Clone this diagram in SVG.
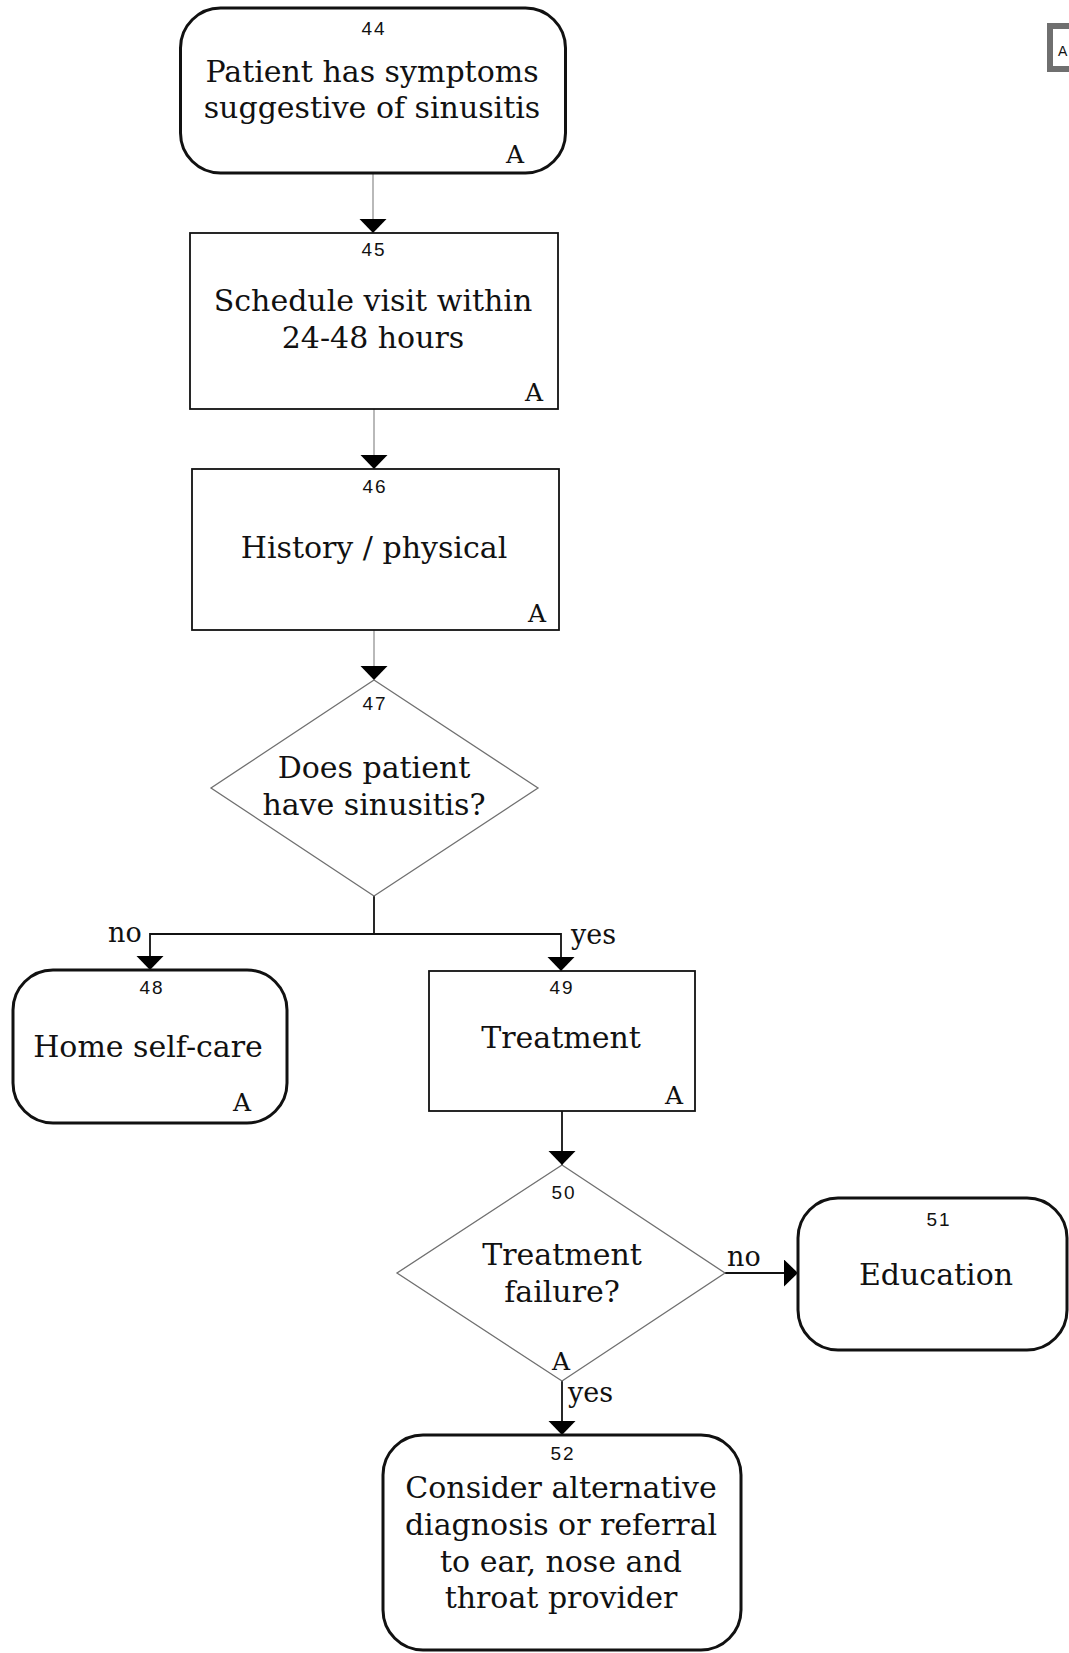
<svg xmlns="http://www.w3.org/2000/svg" width="1069" height="1653" viewBox="0 0 1069 1653">
<style>
.bg{fill:#fff}
.term{fill:#fff;stroke:#111;stroke-width:3}
.proc{fill:#fff;stroke:#111;stroke-width:1.8}
.dec{fill:#fff;stroke:#707070;stroke-width:1.3}
.t{font-family:"DejaVu Serif","Liberation Serif",serif;font-size:30px;fill:#111;text-anchor:middle}
.n{font-family:"Liberation Sans",Arial,sans-serif;font-size:19px;letter-spacing:2px;fill:#111;text-anchor:middle}
.a{font-family:"DejaVu Serif","Liberation Serif",serif;font-size:25px;fill:#111;text-anchor:middle}
.lbl{font-family:"DejaVu Serif","Liberation Serif",serif;font-size:27px;fill:#111}
.thin{fill:none;stroke:#8a8a8a;stroke-width:1.2}
.bold{fill:none;stroke:#111;stroke-width:1.8}
</style>
<defs>
<marker id="arr" markerUnits="userSpaceOnUse" markerWidth="15" markerHeight="28" refX="14" refY="13.5" orient="auto">
<path d="M0,0 L14,13.5 L0,27 z" fill="#000"/>
</marker>
</defs>
<rect class="bg" x="0" y="0" width="1069" height="1653"/>

<g id="corner-box">
<rect x="1050" y="26" width="40" height="43" fill="#fff" stroke="#6f6f6f" stroke-width="6"/>
<text x="1058" y="56" font-family="Liberation Sans, Arial, sans-serif" font-size="14" fill="#111">A</text>
</g>

<g id="connectors">
<line class="thin" x1="373" y1="173" x2="373" y2="233" marker-end="url(#arr)"/>
<line class="thin" x1="374" y1="409" x2="374" y2="469" marker-end="url(#arr)"/>
<line class="thin" x1="374" y1="630" x2="374" y2="680" marker-end="url(#arr)"/>
<path class="bold" d="M374,896 V934 H150 V970" marker-end="url(#arr)"/>
<path class="bold" d="M374,934 H561 V971" marker-end="url(#arr)"/>
<line class="bold" x1="562" y1="1111" x2="562" y2="1165" marker-end="url(#arr)"/>
<line class="bold" x1="725" y1="1273" x2="798" y2="1273" marker-end="url(#arr)"/>
<line class="bold" x1="562" y1="1381" x2="562" y2="1435" marker-end="url(#arr)"/>
<text class="lbl" x="108" y="942">no</text>
<text class="lbl" x="571" y="944">yes</text>
<text class="lbl" x="727" y="1266">no</text>
<text class="lbl" x="568" y="1402">yes</text>
</g>

<g id="node44">
<rect class="term" x="180.5" y="8" width="385" height="165" rx="40"/>
<text class="n" x="374" y="35">44</text>
<text class="t" x="372" y="82">Patient has symptoms</text>
<text class="t" x="372" y="118">suggestive of sinusitis</text>
<text class="a" x="515" y="163">A</text>
</g>

<g id="node45">
<rect class="proc" x="190" y="233" width="368" height="176"/>
<text class="n" x="374" y="256">45</text>
<text class="t" x="373" y="311">Schedule visit within</text>
<text class="t" x="373" y="348">24-48 hours</text>
<text class="a" x="534" y="401">A</text>
</g>

<g id="node46">
<rect class="proc" x="192" y="469" width="367" height="161"/>
<text class="n" x="375" y="493">46</text>
<text class="t" x="374" y="558">History / physical</text>
<text class="a" x="537" y="622">A</text>
</g>

<g id="node47">
<polygon class="dec" points="374,680 538,788 374,896 211,788"/>
<text class="n" x="375" y="710">47</text>
<text class="t" x="374" y="778">Does patient</text>
<text class="t" x="374" y="815">have sinusitis?</text>
</g>

<g id="node48">
<rect class="term" x="13" y="970" width="274" height="153" rx="40"/>
<text class="n" x="152" y="994">48</text>
<text class="t" x="148" y="1057">Home self-care</text>
<text class="a" x="242" y="1111">A</text>
</g>

<g id="node49">
<rect class="proc" x="429" y="971" width="266" height="140"/>
<text class="n" x="562" y="994">49</text>
<text class="t" x="561" y="1048">Treatment</text>
<text class="a" x="674" y="1104">A</text>
</g>

<g id="node50">
<polygon class="dec" points="562,1165 725,1273 562,1381 397,1273"/>
<text class="n" x="564" y="1199">50</text>
<text class="t" x="562" y="1265">Treatment</text>
<text class="t" x="562" y="1302">failure?</text>
<text class="a" x="561" y="1370">A</text>
</g>

<g id="node51">
<rect class="term" x="798" y="1198" width="269" height="152" rx="40"/>
<text class="n" x="939" y="1226">51</text>
<text class="t" x="936" y="1285">Education</text>
</g>

<g id="node52">
<rect class="term" x="383" y="1435" width="358" height="215" rx="40"/>
<text class="n" x="563" y="1460">52</text>
<text class="t" x="561" y="1498">Consider alternative</text>
<text class="t" x="561" y="1535">diagnosis or referral</text>
<text class="t" x="561" y="1572">to ear, nose and</text>
<text class="t" x="561" y="1608">throat provider</text>
</g>
</svg>
